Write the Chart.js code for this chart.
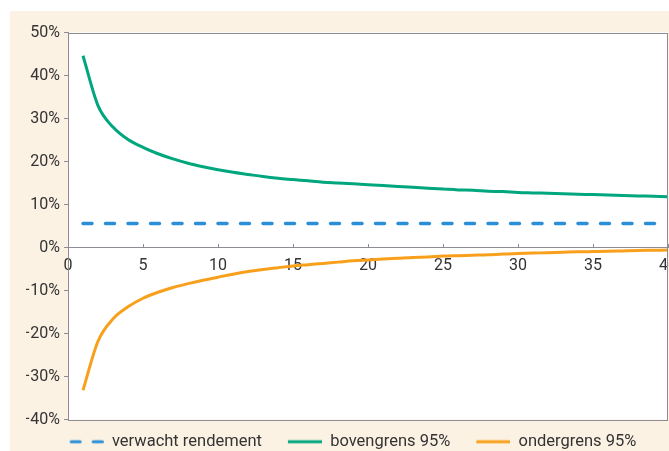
<!DOCTYPE html>
<html>
<head>
<meta charset="utf-8">
<script src="https://cdn.jsdelivr.net/npm/chart.js"></script>
<style>
  html, body { margin: 0; padding: 0; background: #fff; overflow: hidden; }
  .panel { position: absolute; left: 10px; top: 11px; width: 659px; height: 449px; background: #fcf2e4; }
</style>
</head>
<body>
<div class="panel"><canvas id="chart"></canvas></div>
<script>
// jaren (beleggingshorizon)
const years = [1, 2, 3, 4, 5, 6, 7, 8, 9, 10, 11, 12, 13, 14, 15, 16, 17, 18, 19, 20,
  21, 22, 23, 24, 25, 26, 27, 28, 29, 30, 31, 32, 33, 34, 35, 36, 37, 38, 39, 40];

// verwacht rendement (%)
const expected = years.map(() => 5.6);

// bovengrens 95% (%)
const upper = [44.6, 33.0, 28.0, 25.1, 23.3, 21.8, 20.6, 19.6, 18.8, 18.1,
  17.5, 17.0, 16.5, 16.1, 15.8, 15.5, 15.2, 15.0, 14.8, 14.6,
  14.4, 14.2, 14.0, 13.8, 13.6, 13.4, 13.3, 13.1, 13.0, 12.8,
  12.7, 12.6, 12.5, 12.4, 12.3, 12.2, 12.1, 12.0, 11.9, 11.8];

// ondergrens 95% (%)
const lower = [-33.2, -21.8, -16.6, -13.8, -11.8, -10.4, -9.3, -8.4, -7.6, -6.9,
  -6.2, -5.6, -5.1, -4.7, -4.3, -4.0, -3.7, -3.4, -3.1, -2.9,
  -2.7, -2.5, -2.3, -2.2, -2.0, -1.9, -1.8, -1.7, -1.5, -1.4,
  -1.3, -1.2, -1.1, -1.0, -0.95, -0.9, -0.8, -0.7, -0.65, -0.6];

const seriesLabels = ['verwacht rendement', 'bovengrens 95%', 'ondergrens 95%'];
const colors = ['#2a8fd6', '#00a67e', '#f8a01c'];

const textColor = '#333333';
const axisColor = '#8c8c94';
const fontFamily = 'Roboto, "DejaVu Sans", sans-serif';
const fontSize = 16;

const toPoints = (values) => values.map((v, i) => ({ x: years[i], y: v }));

// legend swatch: some empty room in front, then a 34px line
function swatch(color, dash) {
  const c = document.createElement('canvas');
  c.width = 46;
  c.height = 6;
  const g = c.getContext('2d');
  g.strokeStyle = color;
  g.lineWidth = 3;
  g.lineCap = dash.length ? 'round' : 'butt';
  g.setLineDash(dash);
  g.beginPath();
  g.moveTo(dash.length ? 13.5 : 12, 3);
  g.lineTo(46, 3);
  g.stroke();
  return c;
}
const swatches = [swatch(colors[0], [9, 13]), swatch(colors[1], []), swatch(colors[2], [])];

// white plot area with a grey frame around it
const frame = {
  id: 'frame',
  beforeDraw(chart) {
    const { ctx, chartArea: a } = chart;
    ctx.save();
    ctx.fillStyle = '#ffffff';
    ctx.fillRect(a.left, a.top, a.right - a.left, a.bottom - a.top);
    ctx.restore();
  },
  afterDraw(chart) {
    const { ctx, chartArea: a } = chart;
    ctx.save();
    ctx.strokeStyle = axisColor;
    ctx.lineWidth = 1;
    ctx.strokeRect(Math.round(a.left) + 0.5, Math.round(a.top) + 0.5,
      Math.round(a.right - a.left) - 1, Math.round(a.bottom - a.top));
    ctx.restore();
  }
};

new Chart(document.getElementById('chart'), {
  type: 'line',
  data: {
    datasets: [
      {
        label: seriesLabels[0],
        data: toPoints(expected),
        borderColor: colors[0],
        borderWidth: 3.5,
        borderDash: [9, 13.5],
        borderCapStyle: 'round',
        pointRadius: 0
      },
      {
        label: seriesLabels[1],
        data: toPoints(upper),
        borderColor: colors[1],
        borderWidth: 3,
        cubicInterpolationMode: 'monotone',
        pointRadius: 0
      },
      {
        label: seriesLabels[2],
        data: toPoints(lower),
        borderColor: colors[2],
        borderWidth: 3,
        cubicInterpolationMode: 'monotone',
        pointRadius: 0
      }
    ]
  },
  options: {
    responsive: true,
    maintainAspectRatio: false,
    animation: false,
    layout: { padding: { top: 21.5, right: 1, left: 16, bottom: 0 } },
    scales: {
      x: {
        type: 'linear',
        position: { y: 0 },
        min: 0,
        max: 40,
        ticks: { stepSize: 5, padding: 13, color: textColor, font: { family: fontFamily, size: fontSize } },
        grid: { drawOnChartArea: false, tickLength: -4, color: axisColor },
        border: { color: axisColor, width: 1 },
        afterFit(scale) { scale.paddingLeft = 0; scale.paddingRight = 0; }
      },
      y: {
        min: -40,
        max: 50,
        ticks: {
          stepSize: 10,
          padding: 4,
          color: textColor,
          font: { family: fontFamily, size: fontSize },
          callback: (v) => (v < 0 ? '\u2212' + Math.abs(v) : v) + '%'
        },
        grid: { drawOnChartArea: false, tickLength: 4, color: axisColor },
        border: { color: axisColor, width: 1 },
        afterFit(scale) { scale.width = 42; }
      }
    },
    plugins: {
      tooltip: { enabled: false },
      legend: {
        position: 'bottom',
        labels: {
          usePointStyle: true,
          pointStyleWidth: 46,
          padding: 14,
          color: textColor,
          font: { family: fontFamily, size: 16.5 },
          generateLabels: (chart) => chart.data.datasets.map((ds, i) => ({
            text: ds.label,
            pointStyle: swatches[i],
            fillStyle: ds.borderColor,
            strokeStyle: ds.borderColor,
            lineWidth: 0,
            hidden: false,
            datasetIndex: i,
            fontColor: textColor
          }))
        }
      }
    }
  },
  plugins: [frame]
});
</script>
</body>
</html>
